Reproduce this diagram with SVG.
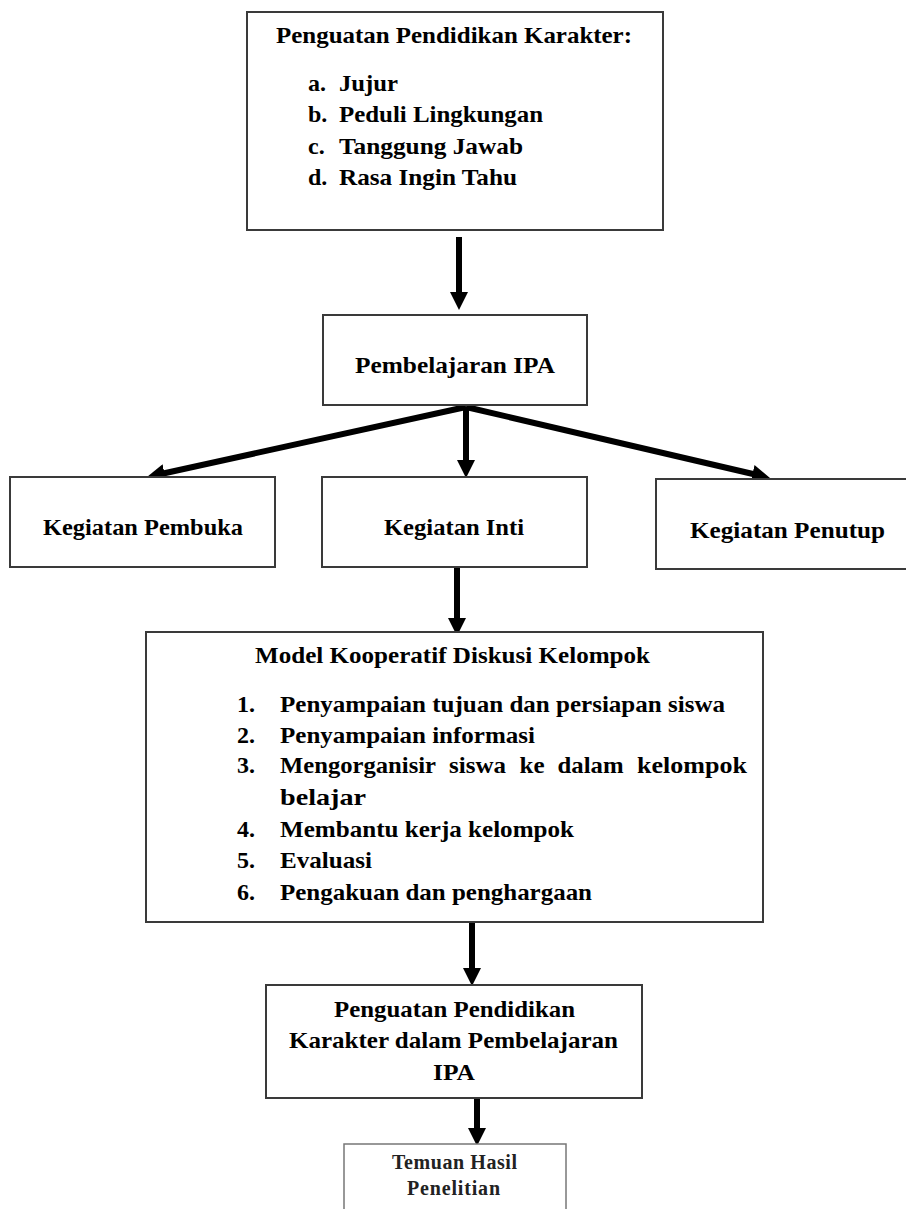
<svg xmlns="http://www.w3.org/2000/svg" width="906" height="1209" viewBox="0 0 906 1209">
  <defs>
    <marker id="ah" viewBox="0 0 10 10" refX="4" refY="5" markerWidth="3" markerHeight="3" markerUnits="strokeWidth" orient="auto">
      <path d="M0,0 L10,5 L0,10 z" fill="#000"/>
    </marker>
  </defs>
  <style>
    .box { fill: #fff; stroke: #3a3a3a; stroke-width: 2; }
    .box2 { fill: #fff; stroke: #777; stroke-width: 1.5; }
    .t { font-family: "Liberation Serif", "Times New Roman", serif; font-weight: bold; font-size: 24px; fill: #000; }
    .ts { font-family: "Liberation Serif", "Times New Roman", serif; font-weight: bold; font-size: 20px; fill: #222; }
    .arr { stroke: #000; stroke-width: 6; fill: none; marker-end: url(#ah); }
  </style>
  <rect width="906" height="1209" fill="#fff"/>

  <g id="connectors">
    <line class="arr" x1="459" y1="237" x2="459" y2="299.2"/>
    <line class="arr" x1="466" y1="407" x2="157.5" y2="474.7"/>
    <line class="arr" x1="466" y1="407" x2="466" y2="467.2"/>
    <line class="arr" x1="466" y1="407" x2="759.5" y2="475.5"/>
    <line class="arr" x1="457" y1="567" x2="457" y2="625.2"/>
    <line class="arr" x1="472" y1="922" x2="472" y2="975.2"/>
    <line class="arr" x1="477" y1="1098" x2="477" y2="1135.2"/>
  </g>

  <g id="node-karakter">
    <rect class="box" x="247" y="12" width="416" height="218"/>
    <text class="t" x="276" y="43" textLength="356" lengthAdjust="spacingAndGlyphs">Penguatan Pendidikan Karakter:</text>
    <text class="t" x="308" y="91">a.</text>
    <text class="t" x="339" y="91" textLength="59" lengthAdjust="spacingAndGlyphs">Jujur</text>
    <text class="t" x="308" y="122">b.</text>
    <text class="t" x="339" y="122" textLength="204" lengthAdjust="spacingAndGlyphs">Peduli Lingkungan</text>
    <text class="t" x="308" y="154">c.</text>
    <text class="t" x="339" y="154" textLength="184" lengthAdjust="spacingAndGlyphs">Tanggung Jawab</text>
    <text class="t" x="308" y="185">d.</text>
    <text class="t" x="339" y="185" textLength="178" lengthAdjust="spacingAndGlyphs">Rasa Ingin Tahu</text>
  </g>

  <g id="node-pembelajaran">
    <rect class="box" x="323" y="315" width="264" height="90"/>
    <text class="t" x="355" y="373" textLength="200" lengthAdjust="spacingAndGlyphs">Pembelajaran IPA</text>
  </g>

  <g id="node-pembuka">
    <rect class="box" x="10" y="477" width="265" height="90"/>
    <text class="t" x="43" y="535" textLength="200" lengthAdjust="spacingAndGlyphs">Kegiatan Pembuka</text>
  </g>

  <g id="node-inti">
    <rect class="box" x="322" y="477" width="265" height="90"/>
    <text class="t" x="384" y="535" textLength="140" lengthAdjust="spacingAndGlyphs">Kegiatan Inti</text>
  </g>

  <g id="node-penutup">
    <rect class="box" x="656" y="479" width="270" height="90"/>
    <text class="t" x="690" y="538" textLength="195" lengthAdjust="spacingAndGlyphs">Kegiatan Penutup</text>
  </g>

  <g id="node-model">
    <rect class="box" x="146" y="632" width="617" height="290"/>
    <text class="t" x="255" y="663" textLength="395" lengthAdjust="spacingAndGlyphs">Model Kooperatif Diskusi Kelompok</text>
    <text class="t" x="237" y="712">1.</text>
    <text class="t" x="280" y="712" textLength="445" lengthAdjust="spacingAndGlyphs">Penyampaian tujuan dan persiapan siswa</text>
    <text class="t" x="237" y="743">2.</text>
    <text class="t" x="280" y="743" textLength="255" lengthAdjust="spacingAndGlyphs">Penyampaian informasi</text>
    <text class="t" x="237" y="773">3.</text>
    <text class="t" x="280" y="773" textLength="156" lengthAdjust="spacingAndGlyphs">Mengorganisir</text>
    <text class="t" x="449" y="773" textLength="57" lengthAdjust="spacingAndGlyphs">siswa</text>
    <text class="t" x="519.5" y="773" textLength="25" lengthAdjust="spacingAndGlyphs">ke</text>
    <text class="t" x="557.5" y="773" textLength="66" lengthAdjust="spacingAndGlyphs">dalam</text>
    <text class="t" x="637" y="773" textLength="110" lengthAdjust="spacingAndGlyphs">kelompok</text>
    <text class="t" x="280" y="805" textLength="86" lengthAdjust="spacingAndGlyphs">belajar</text>
    <text class="t" x="237" y="837">4.</text>
    <text class="t" x="280" y="837" textLength="294" lengthAdjust="spacingAndGlyphs">Membantu kerja kelompok</text>
    <text class="t" x="237" y="868">5.</text>
    <text class="t" x="280" y="868" textLength="92" lengthAdjust="spacingAndGlyphs">Evaluasi</text>
    <text class="t" x="237" y="900">6.</text>
    <text class="t" x="280" y="900" textLength="312" lengthAdjust="spacingAndGlyphs">Pengakuan dan penghargaan</text>
  </g>

  <g id="node-penguatan-ipa">
    <rect class="box" x="266" y="985" width="376" height="113"/>
    <text class="t" x="334" y="1017" textLength="241" lengthAdjust="spacingAndGlyphs">Penguatan Pendidikan</text>
    <text class="t" x="289" y="1048" textLength="329" lengthAdjust="spacingAndGlyphs">Karakter dalam Pembelajaran</text>
    <text class="t" x="433" y="1080" textLength="42" lengthAdjust="spacingAndGlyphs">IPA</text>
  </g>

  <g id="node-temuan">
    <rect class="box2" x="344" y="1144" width="222" height="90"/>
    <text class="ts" x="392" y="1169" textLength="125" lengthAdjust="spacing">Temuan Hasil</text>
    <text class="ts" x="407" y="1195" textLength="93" lengthAdjust="spacing">Penelitian</text>
  </g>
</svg>
